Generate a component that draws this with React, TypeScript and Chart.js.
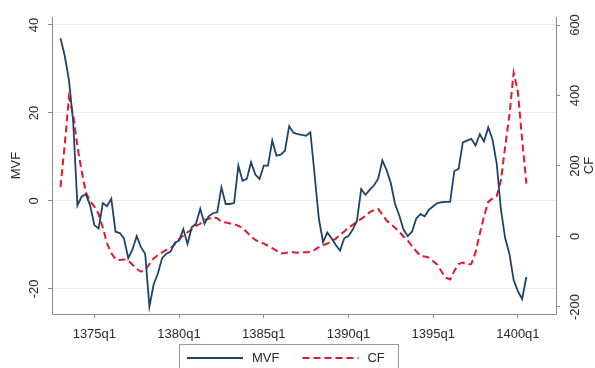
import { useEffect, useRef } from "react";
import { Chart, registerables } from "chart.js";

Chart.register(...registerables);

// Quarterly periods covered by both series
const PERIODS = [
  "1373q1", "1373q2", "1373q3", "1373q4",
  "1374q1", "1374q2", "1374q3", "1374q4",
  "1375q1", "1375q2", "1375q3", "1375q4",
  "1376q1", "1376q2", "1376q3", "1376q4",
  "1377q1", "1377q2", "1377q3", "1377q4",
  "1378q1", "1378q2", "1378q3", "1378q4",
  "1379q1", "1379q2", "1379q3", "1379q4",
  "1380q1", "1380q2", "1380q3", "1380q4",
  "1381q1", "1381q2", "1381q3", "1381q4",
  "1382q1", "1382q2", "1382q3", "1382q4",
  "1383q1", "1383q2", "1383q3", "1383q4",
  "1384q1", "1384q2", "1384q3", "1384q4",
  "1385q1", "1385q2", "1385q3", "1385q4",
  "1386q1", "1386q2", "1386q3", "1386q4",
  "1387q1", "1387q2", "1387q3", "1387q4",
  "1388q1", "1388q2", "1388q3", "1388q4",
  "1389q1", "1389q2", "1389q3", "1389q4",
  "1390q1", "1390q2", "1390q3", "1390q4",
  "1391q1", "1391q2", "1391q3", "1391q4",
  "1392q1", "1392q2", "1392q3", "1392q4",
  "1393q1", "1393q2", "1393q3", "1393q4",
  "1394q1", "1394q2", "1394q3", "1394q4",
  "1395q1", "1395q2", "1395q3", "1395q4",
  "1396q1", "1396q2", "1396q3", "1396q4",
  "1397q1", "1397q2", "1397q3", "1397q4",
  "1398q1", "1398q2", "1398q3", "1398q4",
  "1399q1", "1399q2", "1399q3", "1399q4",
  "1400q1", "1400q2", "1400q3",
];

// MVF (left axis), one value per quarter
const MVF = [
  37, 33, 27.5, 18, -1, 1, 1.5, -1,
  -5.5, -6.3, -0.5, -1.2, 0.5, -7, -7.3, -8.5,
  -13, -11, -8, -10.5, -12, -24, -19, -16.5,
  -13, -12, -11.5, -9.5, -9, -6.4, -9.8, -6,
  -5.2, -1.8, -5.2, -3.5, -2.8, -2.6, 3.1, -0.7,
  -0.7, -0.5, 8, 4.6, 5, 8.8, 6, 5,
  8, 8, 13.7, 10.3, 10.5, 11.4, 17, 15.5,
  15.2, 15, 14.8, 15.6, 6, -4, -9.4, -7.2,
  -8.5, -10, -11.3, -8.5, -8, -6.5, -4.5, 2.7,
  1.4, 2.5, 3.5, 5, 9.2, 7, 4, -0.7,
  -3.3, -6.5, -8, -7, -4, -3, -3.5, -2,
  -1.2, -0.5, -0.3, -0.2, -0.2, 6.8, 7.3, 13.3,
  13.7, 14.1, 12.6, 15.2, 13.5, 16.7, 14, 8.5,
  -2, -8.5, -12, -18, -20.5, -22.3, -17.3,
];

// CF (right axis), one value per quarter
const CF = [
  140, 260, 395, 345, 255, 185, 125, 100,
  85, 64, 25, -20, -47, -65, -67, -65,
  -68, -80, -92, -100, -95, -78, -62, -53,
  -45, -38, -33, -22, -7, 3, 12, 20,
  30, 36, 48, 50, 55, 52, 42, 40,
  37, 35, 30, 24, 12, 0, -10, -16,
  -20, -27, -33, -40, -48, -47, -45, -45,
  -46, -45, -45, -44, -38, -30, -25, -20,
  -13, -6, 5, 14, 25, 33, 42, 50,
  58, 69, 75, 78, 62, 45, 35, 25,
  13, 0, -12, -27, -42, -55, -57, -60,
  -70, -80, -100, -117, -122, -97, -78, -74,
  -80, -78, -45, 8, 57, 98, 108, 115,
  160, 255, 345, 465, 410, 275, 150,
];

const X_TICK_LABELS = ["1375q1", "1380q1", "1385q1", "1390q1", "1395q1", "1400q1"];
const MVF_TICKS = [-20, 0, 20, 40];
const CF_TICKS = [-200, 0, 200, 400, 600];

const FONT_FAMILY = "'Liberation Sans', Arial, Helvetica, sans-serif";
const NAVY = "#1f4468";
const RED = "#e8162c";
const AXIS_GRAY = "#8c8c8c";
const TEXT = "#2a2a2a";

// Axis titles (both read bottom-to-top) and a boxed legend below the plot
const frame = {
  id: "frame",
  afterDraw(chart: any) {
    const { ctx, chartArea } = chart;
    const midY = (chartArea.top + chartArea.bottom) / 2;
    ctx.save();
    ctx.font = `13px ${FONT_FAMILY}`;
    ctx.fillStyle = TEXT;
    ctx.textAlign = "center";
    ctx.textBaseline = "middle";
    const titles: [number, string][] = [
      [16, "MVF"],
      [589, "CF"],
    ];
    for (const [x, t] of titles) {
      ctx.save();
      ctx.translate(x, midY);
      ctx.rotate(-Math.PI / 2);
      ctx.fillText(t, 0, 0);
      ctx.restore();
    }

    const box = { left: 179, top: 344, width: 219, height: 34 };
    ctx.strokeStyle = "#9a9a9a";
    ctx.lineWidth = 1;
    ctx.strokeRect(box.left + 0.5, box.top + 0.5, box.width, box.height);

    const rowY = 358;
    let x = box.left + 8;
    ctx.textAlign = "left";
    for (const ds of chart.data.datasets) {
      ctx.save();
      ctx.strokeStyle = ds.borderColor;
      ctx.lineWidth = ds.borderWidth;
      ctx.setLineDash(ds.borderDash || []);
      ctx.beginPath();
      ctx.moveTo(x, rowY);
      ctx.lineTo(x + 56, rowY);
      ctx.stroke();
      ctx.restore();
      x += 56 + 9;
      ctx.fillText(ds.label, x, rowY);
      x += ctx.measureText(ds.label).width + 23;
    }
    ctx.restore();
  },
};

export default function App() {
  const canvasRef = useRef<HTMLCanvasElement | null>(null);

  useEffect(() => {
    const canvas = canvasRef.current;
    if (!canvas) return;
    const font = { family: FONT_FAMILY, size: 13 };
    const chart = new Chart(canvas, {
      type: "line",
      data: {
        datasets: [
          {
            label: "MVF",
            data: MVF.map((v, i) => ({ x: i, y: v })),
            borderColor: NAVY,
            borderWidth: 1.8,
            pointRadius: 0,
            tension: 0,
            yAxisID: "y",
          },
          {
            label: "CF",
            data: CF.map((v, i) => ({ x: i, y: v })),
            borderColor: RED,
            borderWidth: 2,
            borderDash: [7, 4],
            pointRadius: 0,
            tension: 0,
            yAxisID: "y2",
          },
        ],
      },
      options: {
        responsive: false,
        animation: false,
        events: [],
        layout: { padding: { top: 17, left: 0, right: 0, bottom: 0 } },
        plugins: { legend: { display: false }, tooltip: { enabled: false } },
        scales: {
          x: {
            type: "linear",
            min: -2,
            max: 117,
            afterBuildTicks: (s: any) => {
              s.ticks = X_TICK_LABELS.map((l) => ({ value: PERIODS.indexOf(l) }));
            },
            afterFit: (s: any) => {
              s.height = 54;
            },
            ticks: {
              callback: (v: any) => PERIODS[v],
              font,
              color: TEXT,
              padding: 9,
              maxRotation: 0,
              autoSkip: false,
            },
            grid: { drawOnChartArea: false, tickLength: 4, tickColor: AXIS_GRAY },
            border: { color: AXIS_GRAY },
          },
          y: {
            position: "left",
            min: -25.7,
            max: 41.8,
            afterBuildTicks: (s: any) => {
              s.ticks = MVF_TICKS.map((v) => ({ value: v }));
            },
            afterFit: (s: any) => {
              s.width = 52;
            },
            ticks: {
              minRotation: 90,
              maxRotation: 90,
              crossAlign: "center",
              padding: 4,
              font,
              color: TEXT,
            },
            grid: { color: "#ececec", tickColor: AXIS_GRAY, tickLength: 4 },
            border: { color: AXIS_GRAY },
          },
          y2: {
            position: "right",
            min: -219.9,
            max: 622.7,
            afterBuildTicks: (s: any) => {
              s.ticks = CF_TICKS.map((v) => ({ value: v }));
            },
            afterFit: (s: any) => {
              s.width = 39;
            },
            ticks: {
              minRotation: 90,
              maxRotation: 90,
              crossAlign: "center",
              padding: 2,
              font,
              color: TEXT,
            },
            grid: { drawOnChartArea: false, tickColor: AXIS_GRAY, tickLength: 4 },
            border: { color: AXIS_GRAY },
          },
        },
      },
      plugins: [frame],
    } as any);
    return () => chart.destroy();
  }, []);

  return (
    <div style={{ position: "fixed", left: 0, top: 0, width: 595, height: 368, background: "#fff" }}>
      <canvas ref={canvasRef} width={595} height={368} />
    </div>
  );
}
